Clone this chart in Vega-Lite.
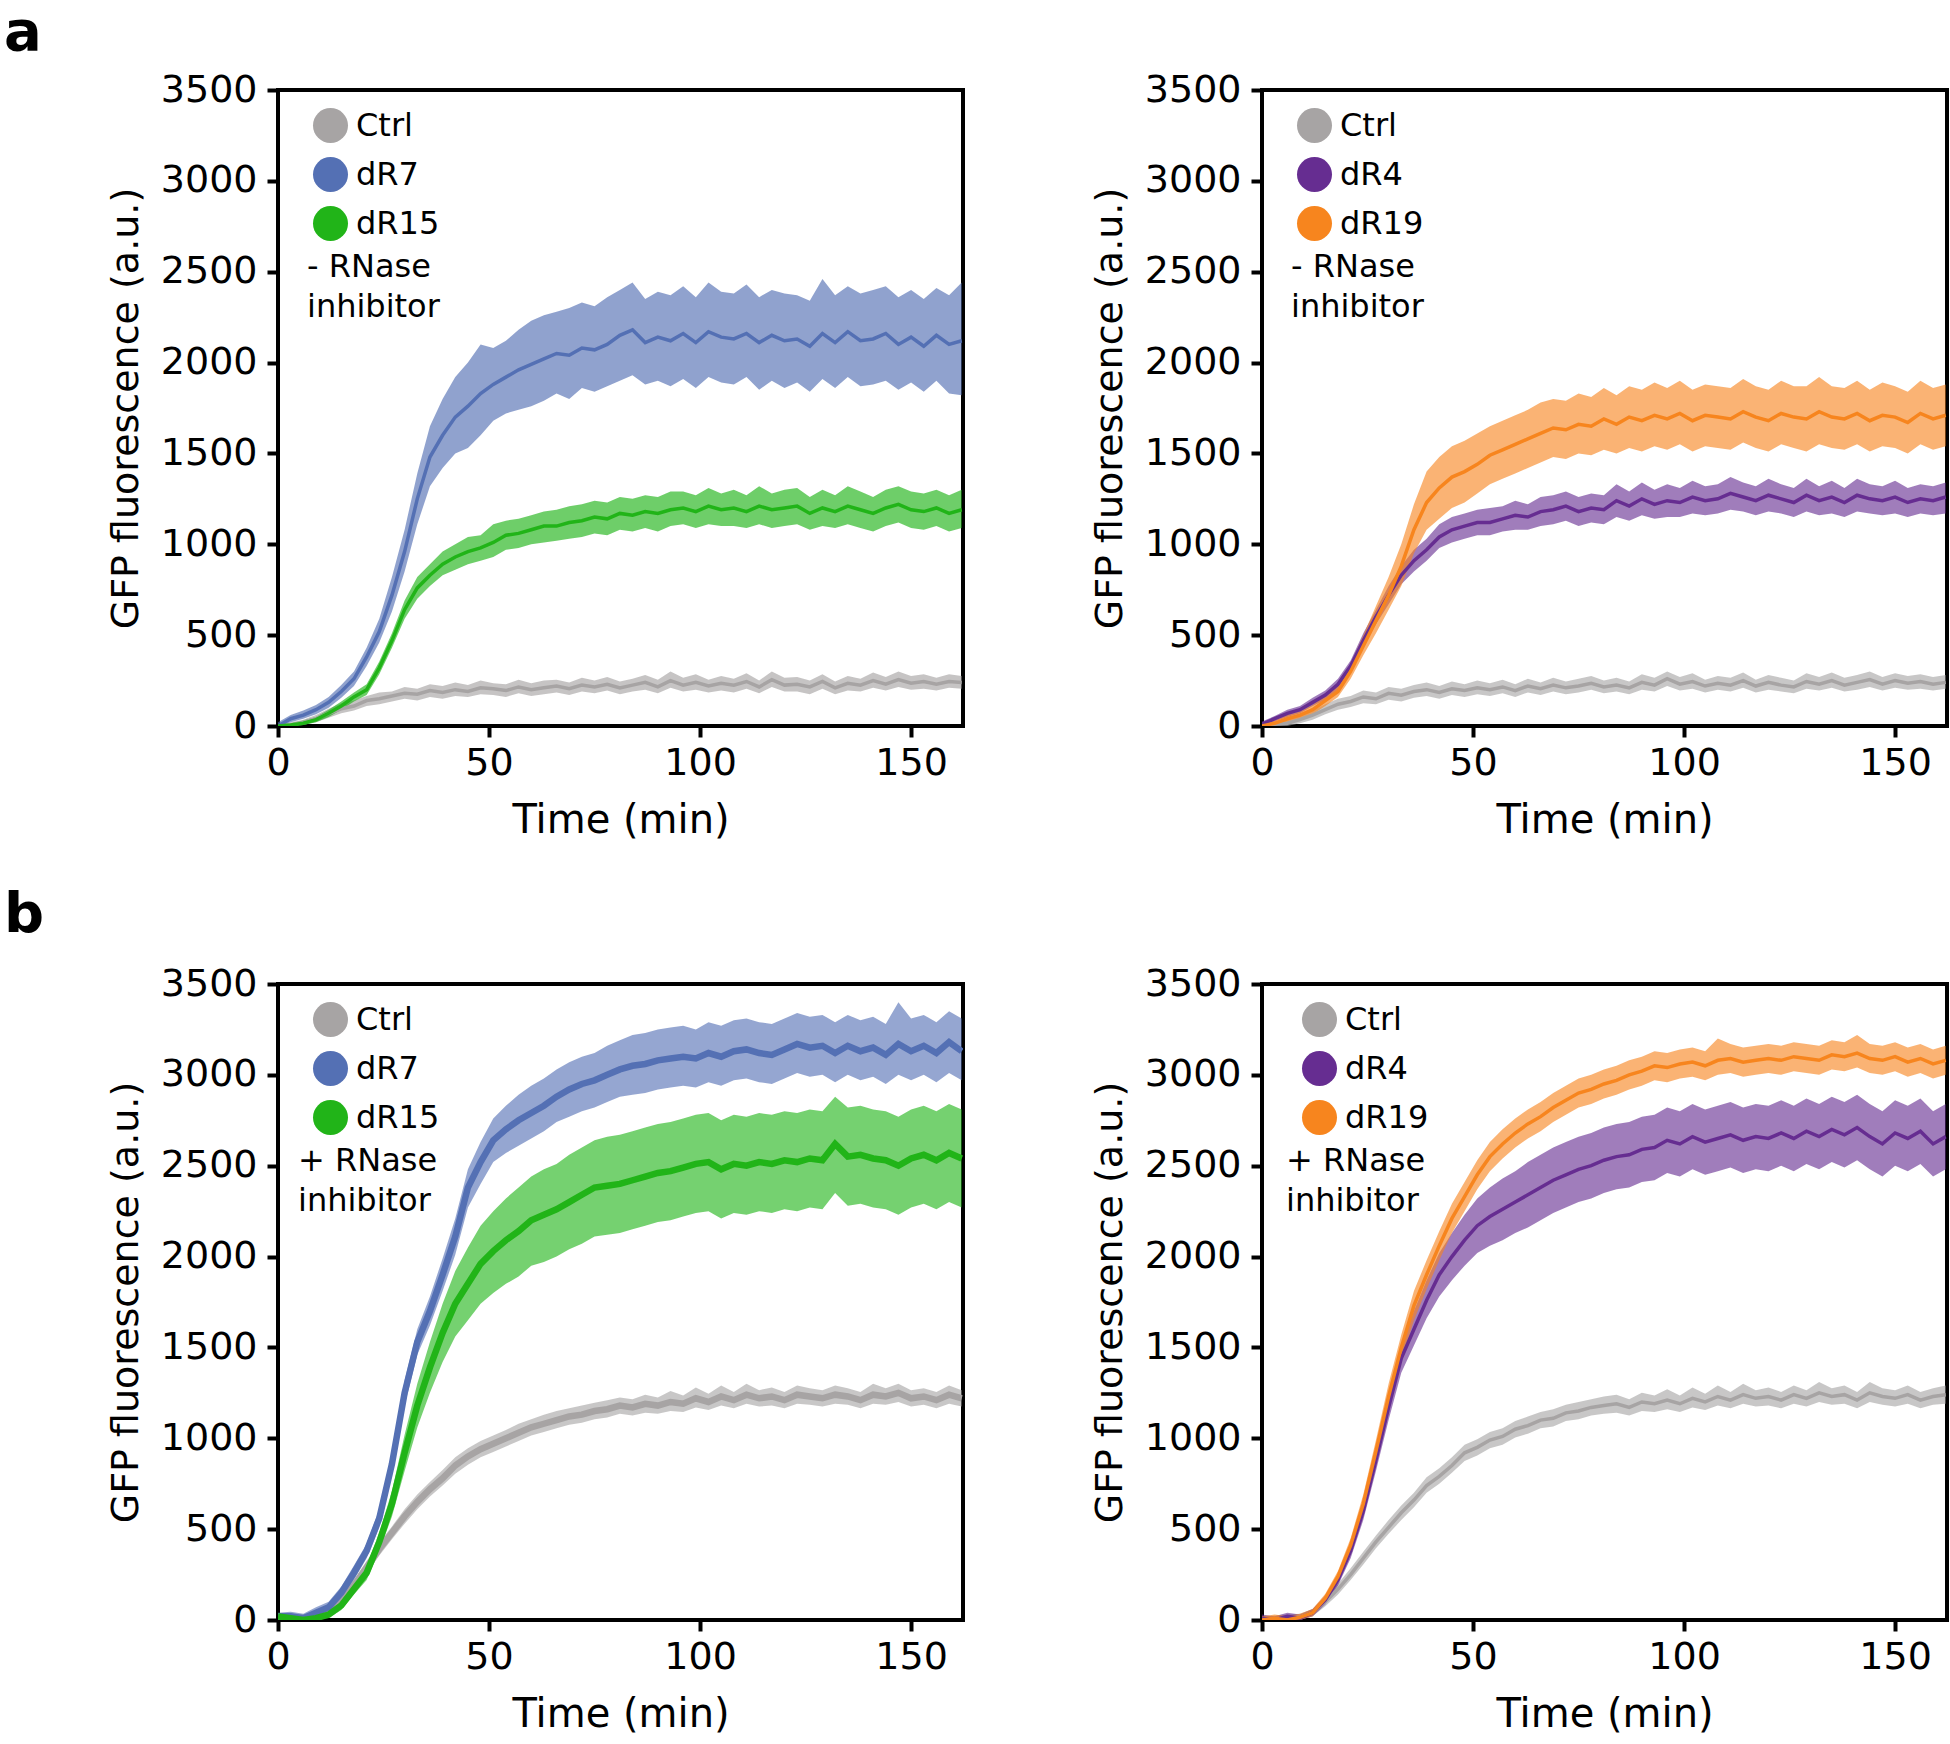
{
  "$schema": "https://vega.github.io/schema/vega-lite/v6.json",
  "description": "GFP fluorescence time courses, four panels",
  "autosize": {"type": "none"},
  "padding": {"left": 278, "top": 90, "right": 1672, "bottom": 1654},
  "background": "white",
  "datasets": {
    "gfp": [
      {"p":"a1","s":"Ctrl","t":0,"m":0,"l":0,"h":10},{"p":"a1","s":"Ctrl","t":3,"m":5,"l":0,"h":20},{"p":"a1","s":"Ctrl","t":6,"m":20,"l":5,"h":35},{"p":"a1","s":"Ctrl","t":9,"m":40,"l":20,"h":60},{"p":"a1","s":"Ctrl","t":12,"m":70,"l":45,"h":95},{"p":"a1","s":"Ctrl","t":15,"m":95,"l":70,"h":125},{"p":"a1","s":"Ctrl","t":18,"m":110,"l":85,"h":140},{"p":"a1","s":"Ctrl","t":21,"m":140,"l":110,"h":165},{"p":"a1","s":"Ctrl","t":24,"m":150,"l":120,"h":185},{"p":"a1","s":"Ctrl","t":27,"m":165,"l":135,"h":190},{"p":"a1","s":"Ctrl","t":30,"m":180,"l":150,"h":215},{"p":"a1","s":"Ctrl","t":33,"m":175,"l":140,"h":205},{"p":"a1","s":"Ctrl","t":36,"m":195,"l":160,"h":230},{"p":"a1","s":"Ctrl","t":39,"m":185,"l":150,"h":220},{"p":"a1","s":"Ctrl","t":42,"m":200,"l":165,"h":240},{"p":"a1","s":"Ctrl","t":45,"m":190,"l":160,"h":225},{"p":"a1","s":"Ctrl","t":48,"m":210,"l":175,"h":250},{"p":"a1","s":"Ctrl","t":51,"m":205,"l":170,"h":235},{"p":"a1","s":"Ctrl","t":54,"m":195,"l":160,"h":230},{"p":"a1","s":"Ctrl","t":57,"m":215,"l":180,"h":255},{"p":"a1","s":"Ctrl","t":60,"m":200,"l":165,"h":235},{"p":"a1","s":"Ctrl","t":63,"m":210,"l":175,"h":250},{"p":"a1","s":"Ctrl","t":66,"m":220,"l":185,"h":255},{"p":"a1","s":"Ctrl","t":69,"m":205,"l":170,"h":240},{"p":"a1","s":"Ctrl","t":72,"m":225,"l":190,"h":265},{"p":"a1","s":"Ctrl","t":75,"m":215,"l":180,"h":250},{"p":"a1","s":"Ctrl","t":78,"m":230,"l":195,"h":270},{"p":"a1","s":"Ctrl","t":81,"m":210,"l":175,"h":245},{"p":"a1","s":"Ctrl","t":84,"m":225,"l":190,"h":260},{"p":"a1","s":"Ctrl","t":87,"m":240,"l":200,"h":280},{"p":"a1","s":"Ctrl","t":90,"m":215,"l":180,"h":255},{"p":"a1","s":"Ctrl","t":93,"m":250,"l":210,"h":300},{"p":"a1","s":"Ctrl","t":96,"m":225,"l":190,"h":265},{"p":"a1","s":"Ctrl","t":99,"m":240,"l":200,"h":285},{"p":"a1","s":"Ctrl","t":102,"m":220,"l":185,"h":255},{"p":"a1","s":"Ctrl","t":105,"m":235,"l":195,"h":275},{"p":"a1","s":"Ctrl","t":108,"m":225,"l":185,"h":260},{"p":"a1","s":"Ctrl","t":111,"m":245,"l":205,"h":290},{"p":"a1","s":"Ctrl","t":114,"m":215,"l":180,"h":250},{"p":"a1","s":"Ctrl","t":117,"m":255,"l":215,"h":300},{"p":"a1","s":"Ctrl","t":120,"m":225,"l":190,"h":265},{"p":"a1","s":"Ctrl","t":123,"m":230,"l":190,"h":270},{"p":"a1","s":"Ctrl","t":126,"m":215,"l":175,"h":250},{"p":"a1","s":"Ctrl","t":129,"m":245,"l":205,"h":285},{"p":"a1","s":"Ctrl","t":132,"m":210,"l":175,"h":245},{"p":"a1","s":"Ctrl","t":135,"m":235,"l":195,"h":275},{"p":"a1","s":"Ctrl","t":138,"m":225,"l":190,"h":260},{"p":"a1","s":"Ctrl","t":141,"m":250,"l":210,"h":295},{"p":"a1","s":"Ctrl","t":144,"m":230,"l":195,"h":270},{"p":"a1","s":"Ctrl","t":147,"m":255,"l":215,"h":300},{"p":"a1","s":"Ctrl","t":150,"m":235,"l":200,"h":275},{"p":"a1","s":"Ctrl","t":153,"m":245,"l":205,"h":285},{"p":"a1","s":"Ctrl","t":156,"m":230,"l":195,"h":265},{"p":"a1","s":"Ctrl","t":159,"m":245,"l":210,"h":285},{"p":"a1","s":"Ctrl","t":162,"m":240,"l":205,"h":275},
      {"p":"a1","s":"dR7","t":0,"m":0,"l":0,"h":20},{"p":"a1","s":"dR7","t":3,"m":40,"l":20,"h":60},{"p":"a1","s":"dR7","t":6,"m":60,"l":40,"h":85},{"p":"a1","s":"dR7","t":9,"m":90,"l":65,"h":115},{"p":"a1","s":"dR7","t":12,"m":130,"l":100,"h":160},{"p":"a1","s":"dR7","t":15,"m":190,"l":155,"h":225},{"p":"a1","s":"dR7","t":18,"m":260,"l":220,"h":300},{"p":"a1","s":"dR7","t":21,"m":380,"l":330,"h":430},{"p":"a1","s":"dR7","t":24,"m":520,"l":460,"h":590},{"p":"a1","s":"dR7","t":27,"m":720,"l":630,"h":820},{"p":"a1","s":"dR7","t":30,"m":960,"l":850,"h":1080},{"p":"a1","s":"dR7","t":33,"m":1250,"l":1110,"h":1390},{"p":"a1","s":"dR7","t":36,"m":1480,"l":1320,"h":1650},{"p":"a1","s":"dR7","t":39,"m":1600,"l":1420,"h":1800},{"p":"a1","s":"dR7","t":42,"m":1700,"l":1500,"h":1920},{"p":"a1","s":"dR7","t":45,"m":1760,"l":1530,"h":2000},{"p":"a1","s":"dR7","t":48,"m":1830,"l":1600,"h":2100},{"p":"a1","s":"dR7","t":51,"m":1880,"l":1680,"h":2080},{"p":"a1","s":"dR7","t":54,"m":1920,"l":1720,"h":2120},{"p":"a1","s":"dR7","t":57,"m":1960,"l":1740,"h":2180},{"p":"a1","s":"dR7","t":60,"m":1990,"l":1760,"h":2230},{"p":"a1","s":"dR7","t":63,"m":2020,"l":1790,"h":2260},{"p":"a1","s":"dR7","t":66,"m":2050,"l":1830,"h":2280},{"p":"a1","s":"dR7","t":69,"m":2040,"l":1800,"h":2300},{"p":"a1","s":"dR7","t":72,"m":2080,"l":1860,"h":2330},{"p":"a1","s":"dR7","t":75,"m":2070,"l":1840,"h":2310},{"p":"a1","s":"dR7","t":78,"m":2100,"l":1870,"h":2360},{"p":"a1","s":"dR7","t":81,"m":2150,"l":1900,"h":2400},{"p":"a1","s":"dR7","t":84,"m":2180,"l":1930,"h":2440},{"p":"a1","s":"dR7","t":87,"m":2110,"l":1880,"h":2350},{"p":"a1","s":"dR7","t":90,"m":2140,"l":1900,"h":2390},{"p":"a1","s":"dR7","t":93,"m":2120,"l":1870,"h":2370},{"p":"a1","s":"dR7","t":96,"m":2160,"l":1910,"h":2420},{"p":"a1","s":"dR7","t":99,"m":2110,"l":1860,"h":2360},{"p":"a1","s":"dR7","t":102,"m":2170,"l":1920,"h":2440},{"p":"a1","s":"dR7","t":105,"m":2140,"l":1890,"h":2390},{"p":"a1","s":"dR7","t":108,"m":2130,"l":1880,"h":2380},{"p":"a1","s":"dR7","t":111,"m":2160,"l":1920,"h":2430},{"p":"a1","s":"dR7","t":114,"m":2110,"l":1850,"h":2360},{"p":"a1","s":"dR7","t":117,"m":2150,"l":1900,"h":2400},{"p":"a1","s":"dR7","t":120,"m":2120,"l":1860,"h":2380},{"p":"a1","s":"dR7","t":123,"m":2130,"l":1890,"h":2370},{"p":"a1","s":"dR7","t":126,"m":2090,"l":1840,"h":2340},{"p":"a1","s":"dR7","t":129,"m":2160,"l":1910,"h":2460},{"p":"a1","s":"dR7","t":132,"m":2110,"l":1860,"h":2370},{"p":"a1","s":"dR7","t":135,"m":2170,"l":1920,"h":2420},{"p":"a1","s":"dR7","t":138,"m":2120,"l":1870,"h":2380},{"p":"a1","s":"dR7","t":141,"m":2130,"l":1880,"h":2400},{"p":"a1","s":"dR7","t":144,"m":2160,"l":1900,"h":2420},{"p":"a1","s":"dR7","t":147,"m":2100,"l":1850,"h":2360},{"p":"a1","s":"dR7","t":150,"m":2140,"l":1890,"h":2400},{"p":"a1","s":"dR7","t":153,"m":2090,"l":1840,"h":2350},{"p":"a1","s":"dR7","t":156,"m":2150,"l":1900,"h":2410},{"p":"a1","s":"dR7","t":159,"m":2100,"l":1830,"h":2370},{"p":"a1","s":"dR7","t":162,"m":2120,"l":1820,"h":2440},
      {"p":"a1","s":"dR15","t":0,"m":0,"l":0,"h":10},{"p":"a1","s":"dR15","t":3,"m":5,"l":0,"h":15},{"p":"a1","s":"dR15","t":6,"m":15,"l":5,"h":30},{"p":"a1","s":"dR15","t":9,"m":35,"l":20,"h":50},{"p":"a1","s":"dR15","t":12,"m":70,"l":50,"h":90},{"p":"a1","s":"dR15","t":15,"m":110,"l":90,"h":135},{"p":"a1","s":"dR15","t":18,"m":160,"l":135,"h":185},{"p":"a1","s":"dR15","t":21,"m":200,"l":170,"h":230},{"p":"a1","s":"dR15","t":24,"m":320,"l":285,"h":355},{"p":"a1","s":"dR15","t":27,"m":470,"l":430,"h":510},{"p":"a1","s":"dR15","t":30,"m":640,"l":590,"h":690},{"p":"a1","s":"dR15","t":33,"m":760,"l":700,"h":820},{"p":"a1","s":"dR15","t":36,"m":830,"l":770,"h":890},{"p":"a1","s":"dR15","t":39,"m":890,"l":830,"h":960},{"p":"a1","s":"dR15","t":42,"m":930,"l":860,"h":1000},{"p":"a1","s":"dR15","t":45,"m":960,"l":890,"h":1040},{"p":"a1","s":"dR15","t":48,"m":980,"l":910,"h":1050},{"p":"a1","s":"dR15","t":51,"m":1010,"l":930,"h":1110},{"p":"a1","s":"dR15","t":54,"m":1050,"l":970,"h":1130},{"p":"a1","s":"dR15","t":57,"m":1060,"l":980,"h":1140},{"p":"a1","s":"dR15","t":60,"m":1080,"l":1000,"h":1160},{"p":"a1","s":"dR15","t":63,"m":1100,"l":1010,"h":1180},{"p":"a1","s":"dR15","t":66,"m":1100,"l":1020,"h":1190},{"p":"a1","s":"dR15","t":69,"m":1120,"l":1030,"h":1210},{"p":"a1","s":"dR15","t":72,"m":1130,"l":1040,"h":1220},{"p":"a1","s":"dR15","t":75,"m":1150,"l":1060,"h":1240},{"p":"a1","s":"dR15","t":78,"m":1140,"l":1050,"h":1230},{"p":"a1","s":"dR15","t":81,"m":1170,"l":1080,"h":1260},{"p":"a1","s":"dR15","t":84,"m":1160,"l":1070,"h":1250},{"p":"a1","s":"dR15","t":87,"m":1180,"l":1090,"h":1270},{"p":"a1","s":"dR15","t":90,"m":1170,"l":1070,"h":1260},{"p":"a1","s":"dR15","t":93,"m":1190,"l":1100,"h":1290},{"p":"a1","s":"dR15","t":96,"m":1200,"l":1110,"h":1290},{"p":"a1","s":"dR15","t":99,"m":1180,"l":1090,"h":1270},{"p":"a1","s":"dR15","t":102,"m":1210,"l":1110,"h":1310},{"p":"a1","s":"dR15","t":105,"m":1190,"l":1100,"h":1280},{"p":"a1","s":"dR15","t":108,"m":1200,"l":1100,"h":1300},{"p":"a1","s":"dR15","t":111,"m":1180,"l":1090,"h":1270},{"p":"a1","s":"dR15","t":114,"m":1210,"l":1110,"h":1320},{"p":"a1","s":"dR15","t":117,"m":1190,"l":1090,"h":1280},{"p":"a1","s":"dR15","t":120,"m":1200,"l":1100,"h":1300},{"p":"a1","s":"dR15","t":123,"m":1210,"l":1110,"h":1310},{"p":"a1","s":"dR15","t":126,"m":1170,"l":1080,"h":1260},{"p":"a1","s":"dR15","t":129,"m":1200,"l":1100,"h":1300},{"p":"a1","s":"dR15","t":132,"m":1180,"l":1090,"h":1270},{"p":"a1","s":"dR15","t":135,"m":1210,"l":1110,"h":1320},{"p":"a1","s":"dR15","t":138,"m":1190,"l":1090,"h":1290},{"p":"a1","s":"dR15","t":141,"m":1170,"l":1070,"h":1260},{"p":"a1","s":"dR15","t":144,"m":1200,"l":1100,"h":1300},{"p":"a1","s":"dR15","t":147,"m":1220,"l":1120,"h":1320},{"p":"a1","s":"dR15","t":150,"m":1190,"l":1090,"h":1290},{"p":"a1","s":"dR15","t":153,"m":1180,"l":1080,"h":1280},{"p":"a1","s":"dR15","t":156,"m":1200,"l":1100,"h":1300},{"p":"a1","s":"dR15","t":159,"m":1170,"l":1070,"h":1270},{"p":"a1","s":"dR15","t":162,"m":1190,"l":1090,"h":1300},
      {"p":"a2","s":"Ctrl","t":0,"m":0,"l":0,"h":15},{"p":"a2","s":"Ctrl","t":3,"m":10,"l":0,"h":25},{"p":"a2","s":"Ctrl","t":6,"m":15,"l":0,"h":35},{"p":"a2","s":"Ctrl","t":9,"m":35,"l":15,"h":55},{"p":"a2","s":"Ctrl","t":12,"m":60,"l":35,"h":85},{"p":"a2","s":"Ctrl","t":15,"m":90,"l":65,"h":120},{"p":"a2","s":"Ctrl","t":18,"m":120,"l":90,"h":150},{"p":"a2","s":"Ctrl","t":21,"m":135,"l":105,"h":165},{"p":"a2","s":"Ctrl","t":24,"m":160,"l":125,"h":195},{"p":"a2","s":"Ctrl","t":27,"m":150,"l":120,"h":185},{"p":"a2","s":"Ctrl","t":30,"m":180,"l":145,"h":215},{"p":"a2","s":"Ctrl","t":33,"m":170,"l":135,"h":205},{"p":"a2","s":"Ctrl","t":36,"m":190,"l":155,"h":225},{"p":"a2","s":"Ctrl","t":39,"m":200,"l":165,"h":240},{"p":"a2","s":"Ctrl","t":42,"m":185,"l":150,"h":220},{"p":"a2","s":"Ctrl","t":45,"m":205,"l":170,"h":245},{"p":"a2","s":"Ctrl","t":48,"m":195,"l":160,"h":230},{"p":"a2","s":"Ctrl","t":51,"m":210,"l":175,"h":250},{"p":"a2","s":"Ctrl","t":54,"m":200,"l":165,"h":235},{"p":"a2","s":"Ctrl","t":57,"m":215,"l":180,"h":255},{"p":"a2","s":"Ctrl","t":60,"m":195,"l":160,"h":230},{"p":"a2","s":"Ctrl","t":63,"m":220,"l":185,"h":260},{"p":"a2","s":"Ctrl","t":66,"m":205,"l":170,"h":240},{"p":"a2","s":"Ctrl","t":69,"m":225,"l":190,"h":265},{"p":"a2","s":"Ctrl","t":72,"m":210,"l":175,"h":245},{"p":"a2","s":"Ctrl","t":75,"m":220,"l":185,"h":260},{"p":"a2","s":"Ctrl","t":78,"m":235,"l":200,"h":275},{"p":"a2","s":"Ctrl","t":81,"m":215,"l":180,"h":250},{"p":"a2","s":"Ctrl","t":84,"m":225,"l":190,"h":265},{"p":"a2","s":"Ctrl","t":87,"m":210,"l":175,"h":245},{"p":"a2","s":"Ctrl","t":90,"m":240,"l":200,"h":285},{"p":"a2","s":"Ctrl","t":93,"m":225,"l":190,"h":265},{"p":"a2","s":"Ctrl","t":96,"m":260,"l":220,"h":300},{"p":"a2","s":"Ctrl","t":99,"m":230,"l":195,"h":270},{"p":"a2","s":"Ctrl","t":102,"m":245,"l":205,"h":290},{"p":"a2","s":"Ctrl","t":105,"m":220,"l":185,"h":255},{"p":"a2","s":"Ctrl","t":108,"m":235,"l":200,"h":275},{"p":"a2","s":"Ctrl","t":111,"m":225,"l":190,"h":265},{"p":"a2","s":"Ctrl","t":114,"m":250,"l":210,"h":295},{"p":"a2","s":"Ctrl","t":117,"m":220,"l":185,"h":255},{"p":"a2","s":"Ctrl","t":120,"m":240,"l":200,"h":280},{"p":"a2","s":"Ctrl","t":123,"m":225,"l":190,"h":265},{"p":"a2","s":"Ctrl","t":126,"m":215,"l":180,"h":250},{"p":"a2","s":"Ctrl","t":129,"m":245,"l":205,"h":290},{"p":"a2","s":"Ctrl","t":132,"m":230,"l":195,"h":270},{"p":"a2","s":"Ctrl","t":135,"m":250,"l":210,"h":295},{"p":"a2","s":"Ctrl","t":138,"m":225,"l":190,"h":265},{"p":"a2","s":"Ctrl","t":141,"m":240,"l":200,"h":280},{"p":"a2","s":"Ctrl","t":144,"m":255,"l":215,"h":300},{"p":"a2","s":"Ctrl","t":147,"m":230,"l":195,"h":270},{"p":"a2","s":"Ctrl","t":150,"m":250,"l":210,"h":290},{"p":"a2","s":"Ctrl","t":153,"m":235,"l":200,"h":275},{"p":"a2","s":"Ctrl","t":156,"m":245,"l":205,"h":285},{"p":"a2","s":"Ctrl","t":159,"m":230,"l":195,"h":270},{"p":"a2","s":"Ctrl","t":162,"m":240,"l":205,"h":280},
      {"p":"a2","s":"dR4","t":0,"m":10,"l":0,"h":25},{"p":"a2","s":"dR4","t":3,"m":40,"l":25,"h":55},{"p":"a2","s":"dR4","t":6,"m":70,"l":50,"h":90},{"p":"a2","s":"dR4","t":9,"m":90,"l":70,"h":110},{"p":"a2","s":"dR4","t":12,"m":130,"l":110,"h":155},{"p":"a2","s":"dR4","t":15,"m":170,"l":145,"h":195},{"p":"a2","s":"dR4","t":18,"m":230,"l":200,"h":260},{"p":"a2","s":"dR4","t":21,"m":330,"l":300,"h":360},{"p":"a2","s":"dR4","t":24,"m":470,"l":430,"h":510},{"p":"a2","s":"dR4","t":27,"m":600,"l":560,"h":640},{"p":"a2","s":"dR4","t":30,"m":720,"l":670,"h":770},{"p":"a2","s":"dR4","t":33,"m":830,"l":780,"h":880},{"p":"a2","s":"dR4","t":36,"m":910,"l":850,"h":970},{"p":"a2","s":"dR4","t":39,"m":970,"l":910,"h":1030},{"p":"a2","s":"dR4","t":42,"m":1040,"l":980,"h":1110},{"p":"a2","s":"dR4","t":45,"m":1080,"l":1010,"h":1150},{"p":"a2","s":"dR4","t":48,"m":1100,"l":1030,"h":1170},{"p":"a2","s":"dR4","t":51,"m":1120,"l":1050,"h":1190},{"p":"a2","s":"dR4","t":54,"m":1120,"l":1050,"h":1200},{"p":"a2","s":"dR4","t":57,"m":1140,"l":1070,"h":1210},{"p":"a2","s":"dR4","t":60,"m":1160,"l":1080,"h":1240},{"p":"a2","s":"dR4","t":63,"m":1150,"l":1080,"h":1220},{"p":"a2","s":"dR4","t":66,"m":1180,"l":1100,"h":1260},{"p":"a2","s":"dR4","t":69,"m":1190,"l":1110,"h":1270},{"p":"a2","s":"dR4","t":72,"m":1210,"l":1130,"h":1290},{"p":"a2","s":"dR4","t":75,"m":1180,"l":1100,"h":1260},{"p":"a2","s":"dR4","t":78,"m":1200,"l":1120,"h":1280},{"p":"a2","s":"dR4","t":81,"m":1190,"l":1110,"h":1270},{"p":"a2","s":"dR4","t":84,"m":1240,"l":1150,"h":1330},{"p":"a2","s":"dR4","t":87,"m":1210,"l":1130,"h":1290},{"p":"a2","s":"dR4","t":90,"m":1250,"l":1160,"h":1340},{"p":"a2","s":"dR4","t":93,"m":1220,"l":1140,"h":1300},{"p":"a2","s":"dR4","t":96,"m":1240,"l":1150,"h":1330},{"p":"a2","s":"dR4","t":99,"m":1230,"l":1150,"h":1310},{"p":"a2","s":"dR4","t":102,"m":1260,"l":1170,"h":1350},{"p":"a2","s":"dR4","t":105,"m":1240,"l":1160,"h":1320},{"p":"a2","s":"dR4","t":108,"m":1250,"l":1170,"h":1330},{"p":"a2","s":"dR4","t":111,"m":1280,"l":1190,"h":1370},{"p":"a2","s":"dR4","t":114,"m":1260,"l":1180,"h":1340},{"p":"a2","s":"dR4","t":117,"m":1240,"l":1160,"h":1320},{"p":"a2","s":"dR4","t":120,"m":1270,"l":1180,"h":1360},{"p":"a2","s":"dR4","t":123,"m":1250,"l":1170,"h":1330},{"p":"a2","s":"dR4","t":126,"m":1230,"l":1150,"h":1310},{"p":"a2","s":"dR4","t":129,"m":1270,"l":1180,"h":1360},{"p":"a2","s":"dR4","t":132,"m":1240,"l":1160,"h":1320},{"p":"a2","s":"dR4","t":135,"m":1260,"l":1170,"h":1350},{"p":"a2","s":"dR4","t":138,"m":1230,"l":1150,"h":1310},{"p":"a2","s":"dR4","t":141,"m":1270,"l":1180,"h":1360},{"p":"a2","s":"dR4","t":144,"m":1250,"l":1170,"h":1330},{"p":"a2","s":"dR4","t":147,"m":1240,"l":1160,"h":1320},{"p":"a2","s":"dR4","t":150,"m":1260,"l":1170,"h":1350},{"p":"a2","s":"dR4","t":153,"m":1230,"l":1150,"h":1310},{"p":"a2","s":"dR4","t":156,"m":1250,"l":1170,"h":1330},{"p":"a2","s":"dR4","t":159,"m":1240,"l":1160,"h":1320},{"p":"a2","s":"dR4","t":162,"m":1260,"l":1170,"h":1340},
      {"p":"a2","s":"dR19","t":0,"m":0,"l":0,"h":15},{"p":"a2","s":"dR19","t":3,"m":15,"l":0,"h":30},{"p":"a2","s":"dR19","t":6,"m":40,"l":20,"h":60},{"p":"a2","s":"dR19","t":9,"m":60,"l":40,"h":80},{"p":"a2","s":"dR19","t":12,"m":90,"l":65,"h":115},{"p":"a2","s":"dR19","t":15,"m":140,"l":110,"h":170},{"p":"a2","s":"dR19","t":18,"m":190,"l":160,"h":220},{"p":"a2","s":"dR19","t":21,"m":300,"l":260,"h":340},{"p":"a2","s":"dR19","t":24,"m":440,"l":390,"h":500},{"p":"a2","s":"dR19","t":27,"m":580,"l":510,"h":660},{"p":"a2","s":"dR19","t":30,"m":720,"l":640,"h":820},{"p":"a2","s":"dR19","t":33,"m":880,"l":770,"h":1000},{"p":"a2","s":"dR19","t":36,"m":1080,"l":950,"h":1220},{"p":"a2","s":"dR19","t":39,"m":1230,"l":1080,"h":1400},{"p":"a2","s":"dR19","t":42,"m":1310,"l":1140,"h":1480},{"p":"a2","s":"dR19","t":45,"m":1370,"l":1200,"h":1540},{"p":"a2","s":"dR19","t":48,"m":1400,"l":1230,"h":1570},{"p":"a2","s":"dR19","t":51,"m":1440,"l":1280,"h":1610},{"p":"a2","s":"dR19","t":54,"m":1490,"l":1330,"h":1650},{"p":"a2","s":"dR19","t":57,"m":1520,"l":1360,"h":1680},{"p":"a2","s":"dR19","t":60,"m":1550,"l":1390,"h":1710},{"p":"a2","s":"dR19","t":63,"m":1580,"l":1420,"h":1740},{"p":"a2","s":"dR19","t":66,"m":1610,"l":1450,"h":1780},{"p":"a2","s":"dR19","t":69,"m":1640,"l":1480,"h":1800},{"p":"a2","s":"dR19","t":72,"m":1630,"l":1470,"h":1790},{"p":"a2","s":"dR19","t":75,"m":1660,"l":1500,"h":1830},{"p":"a2","s":"dR19","t":78,"m":1650,"l":1490,"h":1810},{"p":"a2","s":"dR19","t":81,"m":1690,"l":1520,"h":1860},{"p":"a2","s":"dR19","t":84,"m":1660,"l":1500,"h":1820},{"p":"a2","s":"dR19","t":87,"m":1700,"l":1530,"h":1870},{"p":"a2","s":"dR19","t":90,"m":1680,"l":1510,"h":1850},{"p":"a2","s":"dR19","t":93,"m":1710,"l":1540,"h":1890},{"p":"a2","s":"dR19","t":96,"m":1690,"l":1520,"h":1860},{"p":"a2","s":"dR19","t":99,"m":1720,"l":1550,"h":1900},{"p":"a2","s":"dR19","t":102,"m":1680,"l":1510,"h":1850},{"p":"a2","s":"dR19","t":105,"m":1710,"l":1540,"h":1880},{"p":"a2","s":"dR19","t":108,"m":1700,"l":1530,"h":1870},{"p":"a2","s":"dR19","t":111,"m":1690,"l":1520,"h":1860},{"p":"a2","s":"dR19","t":114,"m":1730,"l":1560,"h":1910},{"p":"a2","s":"dR19","t":117,"m":1700,"l":1530,"h":1870},{"p":"a2","s":"dR19","t":120,"m":1680,"l":1510,"h":1850},{"p":"a2","s":"dR19","t":123,"m":1720,"l":1550,"h":1900},{"p":"a2","s":"dR19","t":126,"m":1700,"l":1530,"h":1870},{"p":"a2","s":"dR19","t":129,"m":1690,"l":1510,"h":1870},{"p":"a2","s":"dR19","t":132,"m":1730,"l":1550,"h":1920},{"p":"a2","s":"dR19","t":135,"m":1700,"l":1530,"h":1870},{"p":"a2","s":"dR19","t":138,"m":1690,"l":1520,"h":1860},{"p":"a2","s":"dR19","t":141,"m":1720,"l":1550,"h":1900},{"p":"a2","s":"dR19","t":144,"m":1680,"l":1510,"h":1850},{"p":"a2","s":"dR19","t":147,"m":1710,"l":1540,"h":1890},{"p":"a2","s":"dR19","t":150,"m":1700,"l":1530,"h":1870},{"p":"a2","s":"dR19","t":153,"m":1670,"l":1500,"h":1840},{"p":"a2","s":"dR19","t":156,"m":1720,"l":1550,"h":1900},{"p":"a2","s":"dR19","t":159,"m":1690,"l":1520,"h":1860},{"p":"a2","s":"dR19","t":162,"m":1710,"l":1540,"h":1880},
      {"p":"b1","s":"Ctrl","t":0,"m":10,"l":0,"h":30},{"p":"b1","s":"Ctrl","t":3,"m":15,"l":0,"h":35},{"p":"b1","s":"Ctrl","t":6,"m":10,"l":0,"h":30},{"p":"b1","s":"Ctrl","t":9,"m":20,"l":0,"h":45},{"p":"b1","s":"Ctrl","t":12,"m":50,"l":25,"h":75},{"p":"b1","s":"Ctrl","t":15,"m":110,"l":80,"h":140},{"p":"b1","s":"Ctrl","t":18,"m":190,"l":160,"h":220},{"p":"b1","s":"Ctrl","t":21,"m":290,"l":255,"h":325},{"p":"b1","s":"Ctrl","t":24,"m":390,"l":355,"h":425},{"p":"b1","s":"Ctrl","t":27,"m":480,"l":445,"h":515},{"p":"b1","s":"Ctrl","t":30,"m":570,"l":530,"h":610},{"p":"b1","s":"Ctrl","t":33,"m":650,"l":610,"h":690},{"p":"b1","s":"Ctrl","t":36,"m":720,"l":680,"h":760},{"p":"b1","s":"Ctrl","t":39,"m":780,"l":740,"h":825},{"p":"b1","s":"Ctrl","t":42,"m":850,"l":805,"h":895},{"p":"b1","s":"Ctrl","t":45,"m":900,"l":855,"h":945},{"p":"b1","s":"Ctrl","t":48,"m":940,"l":895,"h":985},{"p":"b1","s":"Ctrl","t":51,"m":970,"l":925,"h":1015},{"p":"b1","s":"Ctrl","t":54,"m":1000,"l":955,"h":1045},{"p":"b1","s":"Ctrl","t":57,"m":1030,"l":985,"h":1080},{"p":"b1","s":"Ctrl","t":60,"m":1060,"l":1015,"h":1105},{"p":"b1","s":"Ctrl","t":63,"m":1080,"l":1035,"h":1130},{"p":"b1","s":"Ctrl","t":66,"m":1100,"l":1055,"h":1150},{"p":"b1","s":"Ctrl","t":69,"m":1120,"l":1075,"h":1165},{"p":"b1","s":"Ctrl","t":72,"m":1130,"l":1085,"h":1180},{"p":"b1","s":"Ctrl","t":75,"m":1150,"l":1105,"h":1195},{"p":"b1","s":"Ctrl","t":78,"m":1160,"l":1115,"h":1210},{"p":"b1","s":"Ctrl","t":81,"m":1180,"l":1135,"h":1225},{"p":"b1","s":"Ctrl","t":84,"m":1170,"l":1125,"h":1215},{"p":"b1","s":"Ctrl","t":87,"m":1190,"l":1140,"h":1240},{"p":"b1","s":"Ctrl","t":90,"m":1180,"l":1135,"h":1225},{"p":"b1","s":"Ctrl","t":93,"m":1200,"l":1150,"h":1260},{"p":"b1","s":"Ctrl","t":96,"m":1190,"l":1145,"h":1235},{"p":"b1","s":"Ctrl","t":99,"m":1220,"l":1170,"h":1280},{"p":"b1","s":"Ctrl","t":102,"m":1200,"l":1155,"h":1245},{"p":"b1","s":"Ctrl","t":105,"m":1230,"l":1180,"h":1290},{"p":"b1","s":"Ctrl","t":108,"m":1210,"l":1165,"h":1255},{"p":"b1","s":"Ctrl","t":111,"m":1240,"l":1190,"h":1300},{"p":"b1","s":"Ctrl","t":114,"m":1220,"l":1175,"h":1265},{"p":"b1","s":"Ctrl","t":117,"m":1230,"l":1180,"h":1280},{"p":"b1","s":"Ctrl","t":120,"m":1210,"l":1165,"h":1255},{"p":"b1","s":"Ctrl","t":123,"m":1240,"l":1190,"h":1290},{"p":"b1","s":"Ctrl","t":126,"m":1230,"l":1185,"h":1275},{"p":"b1","s":"Ctrl","t":129,"m":1220,"l":1175,"h":1265},{"p":"b1","s":"Ctrl","t":132,"m":1240,"l":1190,"h":1290},{"p":"b1","s":"Ctrl","t":135,"m":1230,"l":1185,"h":1275},{"p":"b1","s":"Ctrl","t":138,"m":1210,"l":1165,"h":1255},{"p":"b1","s":"Ctrl","t":141,"m":1240,"l":1190,"h":1300},{"p":"b1","s":"Ctrl","t":144,"m":1230,"l":1185,"h":1275},{"p":"b1","s":"Ctrl","t":147,"m":1250,"l":1200,"h":1300},{"p":"b1","s":"Ctrl","t":150,"m":1220,"l":1175,"h":1265},{"p":"b1","s":"Ctrl","t":153,"m":1230,"l":1185,"h":1275},{"p":"b1","s":"Ctrl","t":156,"m":1210,"l":1165,"h":1255},{"p":"b1","s":"Ctrl","t":159,"m":1240,"l":1190,"h":1290},{"p":"b1","s":"Ctrl","t":162,"m":1220,"l":1175,"h":1265},
      {"p":"b1","s":"dR7","t":0,"m":20,"l":0,"h":40},{"p":"b1","s":"dR7","t":3,"m":20,"l":0,"h":45},{"p":"b1","s":"dR7","t":6,"m":10,"l":0,"h":35},{"p":"b1","s":"dR7","t":9,"m":40,"l":15,"h":70},{"p":"b1","s":"dR7","t":12,"m":70,"l":40,"h":100},{"p":"b1","s":"dR7","t":15,"m":150,"l":115,"h":185},{"p":"b1","s":"dR7","t":18,"m":260,"l":220,"h":300},{"p":"b1","s":"dR7","t":21,"m":380,"l":340,"h":420},{"p":"b1","s":"dR7","t":24,"m":560,"l":510,"h":610},{"p":"b1","s":"dR7","t":27,"m":860,"l":800,"h":920},{"p":"b1","s":"dR7","t":30,"m":1250,"l":1180,"h":1320},{"p":"b1","s":"dR7","t":33,"m":1530,"l":1460,"h":1600},{"p":"b1","s":"dR7","t":36,"m":1700,"l":1620,"h":1780},{"p":"b1","s":"dR7","t":39,"m":1900,"l":1810,"h":1990},{"p":"b1","s":"dR7","t":42,"m":2110,"l":2010,"h":2210},{"p":"b1","s":"dR7","t":45,"m":2380,"l":2270,"h":2480},{"p":"b1","s":"dR7","t":48,"m":2520,"l":2400,"h":2630},{"p":"b1","s":"dR7","t":51,"m":2640,"l":2520,"h":2760},{"p":"b1","s":"dR7","t":54,"m":2700,"l":2570,"h":2830},{"p":"b1","s":"dR7","t":57,"m":2750,"l":2610,"h":2890},{"p":"b1","s":"dR7","t":60,"m":2790,"l":2650,"h":2940},{"p":"b1","s":"dR7","t":63,"m":2830,"l":2690,"h":2980},{"p":"b1","s":"dR7","t":66,"m":2880,"l":2740,"h":3030},{"p":"b1","s":"dR7","t":69,"m":2920,"l":2770,"h":3070},{"p":"b1","s":"dR7","t":72,"m":2950,"l":2800,"h":3100},{"p":"b1","s":"dR7","t":75,"m":2970,"l":2820,"h":3120},{"p":"b1","s":"dR7","t":78,"m":3000,"l":2850,"h":3160},{"p":"b1","s":"dR7","t":81,"m":3030,"l":2880,"h":3190},{"p":"b1","s":"dR7","t":84,"m":3050,"l":2890,"h":3220},{"p":"b1","s":"dR7","t":87,"m":3060,"l":2900,"h":3230},{"p":"b1","s":"dR7","t":90,"m":3080,"l":2920,"h":3250},{"p":"b1","s":"dR7","t":93,"m":3090,"l":2930,"h":3260},{"p":"b1","s":"dR7","t":96,"m":3100,"l":2940,"h":3270},{"p":"b1","s":"dR7","t":99,"m":3090,"l":2930,"h":3250},{"p":"b1","s":"dR7","t":102,"m":3120,"l":2960,"h":3290},{"p":"b1","s":"dR7","t":105,"m":3100,"l":2940,"h":3270},{"p":"b1","s":"dR7","t":108,"m":3130,"l":2970,"h":3300},{"p":"b1","s":"dR7","t":111,"m":3140,"l":2980,"h":3310},{"p":"b1","s":"dR7","t":114,"m":3120,"l":2960,"h":3290},{"p":"b1","s":"dR7","t":117,"m":3110,"l":2950,"h":3280},{"p":"b1","s":"dR7","t":120,"m":3140,"l":2980,"h":3310},{"p":"b1","s":"dR7","t":123,"m":3170,"l":3010,"h":3340},{"p":"b1","s":"dR7","t":126,"m":3150,"l":2990,"h":3320},{"p":"b1","s":"dR7","t":129,"m":3160,"l":3000,"h":3330},{"p":"b1","s":"dR7","t":132,"m":3120,"l":2960,"h":3290},{"p":"b1","s":"dR7","t":135,"m":3160,"l":3000,"h":3330},{"p":"b1","s":"dR7","t":138,"m":3130,"l":2970,"h":3300},{"p":"b1","s":"dR7","t":141,"m":3150,"l":2990,"h":3320},{"p":"b1","s":"dR7","t":144,"m":3110,"l":2950,"h":3280},{"p":"b1","s":"dR7","t":147,"m":3170,"l":3000,"h":3400},{"p":"b1","s":"dR7","t":150,"m":3130,"l":2970,"h":3310},{"p":"b1","s":"dR7","t":153,"m":3160,"l":3000,"h":3330},{"p":"b1","s":"dR7","t":156,"m":3120,"l":2960,"h":3290},{"p":"b1","s":"dR7","t":159,"m":3180,"l":3010,"h":3350},{"p":"b1","s":"dR7","t":162,"m":3130,"l":2970,"h":3310},
      {"p":"b1","s":"dR15","t":0,"m":20,"l":0,"h":40},{"p":"b1","s":"dR15","t":3,"m":10,"l":0,"h":30},{"p":"b1","s":"dR15","t":6,"m":0,"l":0,"h":20},{"p":"b1","s":"dR15","t":9,"m":10,"l":0,"h":30},{"p":"b1","s":"dR15","t":12,"m":30,"l":10,"h":55},{"p":"b1","s":"dR15","t":15,"m":80,"l":55,"h":105},{"p":"b1","s":"dR15","t":18,"m":170,"l":140,"h":200},{"p":"b1","s":"dR15","t":21,"m":260,"l":220,"h":300},{"p":"b1","s":"dR15","t":24,"m":430,"l":380,"h":480},{"p":"b1","s":"dR15","t":27,"m":640,"l":570,"h":710},{"p":"b1","s":"dR15","t":30,"m":920,"l":820,"h":1020},{"p":"b1","s":"dR15","t":33,"m":1180,"l":1060,"h":1300},{"p":"b1","s":"dR15","t":36,"m":1390,"l":1250,"h":1530},{"p":"b1","s":"dR15","t":39,"m":1580,"l":1420,"h":1740},{"p":"b1","s":"dR15","t":42,"m":1740,"l":1560,"h":1920},{"p":"b1","s":"dR15","t":45,"m":1850,"l":1650,"h":2050},{"p":"b1","s":"dR15","t":48,"m":1960,"l":1740,"h":2170},{"p":"b1","s":"dR15","t":51,"m":2030,"l":1800,"h":2250},{"p":"b1","s":"dR15","t":54,"m":2090,"l":1850,"h":2320},{"p":"b1","s":"dR15","t":57,"m":2140,"l":1890,"h":2380},{"p":"b1","s":"dR15","t":60,"m":2200,"l":1950,"h":2440},{"p":"b1","s":"dR15","t":63,"m":2230,"l":1970,"h":2480},{"p":"b1","s":"dR15","t":66,"m":2260,"l":2000,"h":2510},{"p":"b1","s":"dR15","t":69,"m":2300,"l":2040,"h":2560},{"p":"b1","s":"dR15","t":72,"m":2340,"l":2070,"h":2600},{"p":"b1","s":"dR15","t":75,"m":2380,"l":2110,"h":2640},{"p":"b1","s":"dR15","t":78,"m":2390,"l":2120,"h":2660},{"p":"b1","s":"dR15","t":81,"m":2400,"l":2130,"h":2670},{"p":"b1","s":"dR15","t":84,"m":2420,"l":2150,"h":2690},{"p":"b1","s":"dR15","t":87,"m":2440,"l":2170,"h":2710},{"p":"b1","s":"dR15","t":90,"m":2460,"l":2190,"h":2730},{"p":"b1","s":"dR15","t":93,"m":2470,"l":2200,"h":2740},{"p":"b1","s":"dR15","t":96,"m":2490,"l":2220,"h":2760},{"p":"b1","s":"dR15","t":99,"m":2510,"l":2240,"h":2780},{"p":"b1","s":"dR15","t":102,"m":2520,"l":2250,"h":2790},{"p":"b1","s":"dR15","t":105,"m":2480,"l":2210,"h":2750},{"p":"b1","s":"dR15","t":108,"m":2510,"l":2240,"h":2780},{"p":"b1","s":"dR15","t":111,"m":2500,"l":2230,"h":2770},{"p":"b1","s":"dR15","t":114,"m":2520,"l":2250,"h":2790},{"p":"b1","s":"dR15","t":117,"m":2510,"l":2240,"h":2780},{"p":"b1","s":"dR15","t":120,"m":2530,"l":2260,"h":2800},{"p":"b1","s":"dR15","t":123,"m":2520,"l":2250,"h":2790},{"p":"b1","s":"dR15","t":126,"m":2540,"l":2270,"h":2810},{"p":"b1","s":"dR15","t":129,"m":2530,"l":2260,"h":2800},{"p":"b1","s":"dR15","t":132,"m":2620,"l":2350,"h":2880},{"p":"b1","s":"dR15","t":135,"m":2550,"l":2280,"h":2820},{"p":"b1","s":"dR15","t":138,"m":2560,"l":2290,"h":2830},{"p":"b1","s":"dR15","t":141,"m":2540,"l":2270,"h":2810},{"p":"b1","s":"dR15","t":144,"m":2530,"l":2260,"h":2800},{"p":"b1","s":"dR15","t":147,"m":2500,"l":2230,"h":2770},{"p":"b1","s":"dR15","t":150,"m":2540,"l":2270,"h":2810},{"p":"b1","s":"dR15","t":153,"m":2560,"l":2290,"h":2830},{"p":"b1","s":"dR15","t":156,"m":2530,"l":2260,"h":2800},{"p":"b1","s":"dR15","t":159,"m":2570,"l":2300,"h":2840},{"p":"b1","s":"dR15","t":162,"m":2540,"l":2270,"h":2810},
      {"p":"b2","s":"Ctrl","t":0,"m":0,"l":0,"h":20},{"p":"b2","s":"Ctrl","t":3,"m":5,"l":0,"h":25},{"p":"b2","s":"Ctrl","t":6,"m":10,"l":0,"h":30},{"p":"b2","s":"Ctrl","t":9,"m":15,"l":0,"h":35},{"p":"b2","s":"Ctrl","t":12,"m":40,"l":20,"h":60},{"p":"b2","s":"Ctrl","t":15,"m":100,"l":75,"h":125},{"p":"b2","s":"Ctrl","t":18,"m":170,"l":140,"h":200},{"p":"b2","s":"Ctrl","t":21,"m":250,"l":220,"h":285},{"p":"b2","s":"Ctrl","t":24,"m":340,"l":305,"h":375},{"p":"b2","s":"Ctrl","t":27,"m":430,"l":395,"h":465},{"p":"b2","s":"Ctrl","t":30,"m":510,"l":475,"h":550},{"p":"b2","s":"Ctrl","t":33,"m":590,"l":550,"h":630},{"p":"b2","s":"Ctrl","t":36,"m":660,"l":620,"h":700},{"p":"b2","s":"Ctrl","t":39,"m":740,"l":700,"h":785},{"p":"b2","s":"Ctrl","t":42,"m":790,"l":750,"h":835},{"p":"b2","s":"Ctrl","t":45,"m":850,"l":810,"h":895},{"p":"b2","s":"Ctrl","t":48,"m":920,"l":875,"h":965},{"p":"b2","s":"Ctrl","t":51,"m":950,"l":905,"h":995},{"p":"b2","s":"Ctrl","t":54,"m":990,"l":945,"h":1035},{"p":"b2","s":"Ctrl","t":57,"m":1010,"l":965,"h":1055},{"p":"b2","s":"Ctrl","t":60,"m":1050,"l":1005,"h":1095},{"p":"b2","s":"Ctrl","t":63,"m":1070,"l":1025,"h":1120},{"p":"b2","s":"Ctrl","t":66,"m":1100,"l":1055,"h":1145},{"p":"b2","s":"Ctrl","t":69,"m":1110,"l":1065,"h":1160},{"p":"b2","s":"Ctrl","t":72,"m":1140,"l":1095,"h":1185},{"p":"b2","s":"Ctrl","t":75,"m":1150,"l":1105,"h":1200},{"p":"b2","s":"Ctrl","t":78,"m":1170,"l":1125,"h":1215},{"p":"b2","s":"Ctrl","t":81,"m":1180,"l":1135,"h":1230},{"p":"b2","s":"Ctrl","t":84,"m":1190,"l":1140,"h":1240},{"p":"b2","s":"Ctrl","t":87,"m":1170,"l":1125,"h":1215},{"p":"b2","s":"Ctrl","t":90,"m":1200,"l":1150,"h":1250},{"p":"b2","s":"Ctrl","t":93,"m":1190,"l":1145,"h":1235},{"p":"b2","s":"Ctrl","t":96,"m":1210,"l":1160,"h":1270},{"p":"b2","s":"Ctrl","t":99,"m":1190,"l":1145,"h":1235},{"p":"b2","s":"Ctrl","t":102,"m":1220,"l":1170,"h":1280},{"p":"b2","s":"Ctrl","t":105,"m":1200,"l":1155,"h":1245},{"p":"b2","s":"Ctrl","t":108,"m":1230,"l":1180,"h":1290},{"p":"b2","s":"Ctrl","t":111,"m":1210,"l":1165,"h":1255},{"p":"b2","s":"Ctrl","t":114,"m":1240,"l":1190,"h":1300},{"p":"b2","s":"Ctrl","t":117,"m":1220,"l":1175,"h":1265},{"p":"b2","s":"Ctrl","t":120,"m":1230,"l":1180,"h":1280},{"p":"b2","s":"Ctrl","t":123,"m":1210,"l":1165,"h":1255},{"p":"b2","s":"Ctrl","t":126,"m":1240,"l":1190,"h":1290},{"p":"b2","s":"Ctrl","t":129,"m":1220,"l":1175,"h":1265},{"p":"b2","s":"Ctrl","t":132,"m":1250,"l":1200,"h":1310},{"p":"b2","s":"Ctrl","t":135,"m":1230,"l":1185,"h":1275},{"p":"b2","s":"Ctrl","t":138,"m":1240,"l":1190,"h":1290},{"p":"b2","s":"Ctrl","t":141,"m":1210,"l":1165,"h":1255},{"p":"b2","s":"Ctrl","t":144,"m":1250,"l":1200,"h":1310},{"p":"b2","s":"Ctrl","t":147,"m":1230,"l":1185,"h":1275},{"p":"b2","s":"Ctrl","t":150,"m":1220,"l":1175,"h":1265},{"p":"b2","s":"Ctrl","t":153,"m":1240,"l":1190,"h":1290},{"p":"b2","s":"Ctrl","t":156,"m":1210,"l":1165,"h":1255},{"p":"b2","s":"Ctrl","t":159,"m":1230,"l":1185,"h":1275},{"p":"b2","s":"Ctrl","t":162,"m":1240,"l":1190,"h":1290},
      {"p":"b2","s":"dR4","t":0,"m":10,"l":0,"h":30},{"p":"b2","s":"dR4","t":3,"m":0,"l":0,"h":20},{"p":"b2","s":"dR4","t":6,"m":20,"l":0,"h":40},{"p":"b2","s":"dR4","t":9,"m":10,"l":0,"h":30},{"p":"b2","s":"dR4","t":12,"m":40,"l":20,"h":60},{"p":"b2","s":"dR4","t":15,"m":110,"l":85,"h":135},{"p":"b2","s":"dR4","t":18,"m":220,"l":190,"h":250},{"p":"b2","s":"dR4","t":21,"m":380,"l":340,"h":420},{"p":"b2","s":"dR4","t":24,"m":600,"l":550,"h":650},{"p":"b2","s":"dR4","t":27,"m":880,"l":820,"h":940},{"p":"b2","s":"dR4","t":30,"m":1170,"l":1100,"h":1240},{"p":"b2","s":"dR4","t":33,"m":1440,"l":1360,"h":1520},{"p":"b2","s":"dR4","t":36,"m":1600,"l":1510,"h":1700},{"p":"b2","s":"dR4","t":39,"m":1760,"l":1660,"h":1870},{"p":"b2","s":"dR4","t":42,"m":1900,"l":1780,"h":2020},{"p":"b2","s":"dR4","t":45,"m":2000,"l":1870,"h":2130},{"p":"b2","s":"dR4","t":48,"m":2090,"l":1950,"h":2230},{"p":"b2","s":"dR4","t":51,"m":2170,"l":2020,"h":2320},{"p":"b2","s":"dR4","t":54,"m":2220,"l":2060,"h":2380},{"p":"b2","s":"dR4","t":57,"m":2260,"l":2090,"h":2430},{"p":"b2","s":"dR4","t":60,"m":2300,"l":2130,"h":2470},{"p":"b2","s":"dR4","t":63,"m":2340,"l":2160,"h":2520},{"p":"b2","s":"dR4","t":66,"m":2380,"l":2200,"h":2560},{"p":"b2","s":"dR4","t":69,"m":2420,"l":2240,"h":2600},{"p":"b2","s":"dR4","t":72,"m":2450,"l":2270,"h":2630},{"p":"b2","s":"dR4","t":75,"m":2480,"l":2300,"h":2660},{"p":"b2","s":"dR4","t":78,"m":2500,"l":2320,"h":2680},{"p":"b2","s":"dR4","t":81,"m":2530,"l":2350,"h":2710},{"p":"b2","s":"dR4","t":84,"m":2550,"l":2370,"h":2730},{"p":"b2","s":"dR4","t":87,"m":2560,"l":2380,"h":2740},{"p":"b2","s":"dR4","t":90,"m":2590,"l":2410,"h":2770},{"p":"b2","s":"dR4","t":93,"m":2600,"l":2420,"h":2780},{"p":"b2","s":"dR4","t":96,"m":2640,"l":2460,"h":2820},{"p":"b2","s":"dR4","t":99,"m":2620,"l":2440,"h":2800},{"p":"b2","s":"dR4","t":102,"m":2660,"l":2480,"h":2840},{"p":"b2","s":"dR4","t":105,"m":2630,"l":2450,"h":2810},{"p":"b2","s":"dR4","t":108,"m":2650,"l":2470,"h":2830},{"p":"b2","s":"dR4","t":111,"m":2670,"l":2490,"h":2850},{"p":"b2","s":"dR4","t":114,"m":2640,"l":2460,"h":2820},{"p":"b2","s":"dR4","t":117,"m":2660,"l":2480,"h":2840},{"p":"b2","s":"dR4","t":120,"m":2650,"l":2470,"h":2830},{"p":"b2","s":"dR4","t":123,"m":2680,"l":2500,"h":2860},{"p":"b2","s":"dR4","t":126,"m":2650,"l":2470,"h":2830},{"p":"b2","s":"dR4","t":129,"m":2690,"l":2510,"h":2870},{"p":"b2","s":"dR4","t":132,"m":2660,"l":2480,"h":2840},{"p":"b2","s":"dR4","t":135,"m":2700,"l":2520,"h":2880},{"p":"b2","s":"dR4","t":138,"m":2670,"l":2490,"h":2850},{"p":"b2","s":"dR4","t":141,"m":2710,"l":2530,"h":2890},{"p":"b2","s":"dR4","t":144,"m":2660,"l":2480,"h":2840},{"p":"b2","s":"dR4","t":147,"m":2620,"l":2440,"h":2800},{"p":"b2","s":"dR4","t":150,"m":2680,"l":2500,"h":2860},{"p":"b2","s":"dR4","t":153,"m":2650,"l":2470,"h":2830},{"p":"b2","s":"dR4","t":156,"m":2690,"l":2510,"h":2870},{"p":"b2","s":"dR4","t":159,"m":2620,"l":2440,"h":2800},{"p":"b2","s":"dR4","t":162,"m":2660,"l":2480,"h":2840},
      {"p":"b2","s":"dR19","t":0,"m":0,"l":0,"h":20},{"p":"b2","s":"dR19","t":3,"m":10,"l":0,"h":30},{"p":"b2","s":"dR19","t":6,"m":0,"l":0,"h":20},{"p":"b2","s":"dR19","t":9,"m":15,"l":0,"h":35},{"p":"b2","s":"dR19","t":12,"m":40,"l":20,"h":60},{"p":"b2","s":"dR19","t":15,"m":120,"l":95,"h":145},{"p":"b2","s":"dR19","t":18,"m":240,"l":210,"h":270},{"p":"b2","s":"dR19","t":21,"m":410,"l":370,"h":450},{"p":"b2","s":"dR19","t":24,"m":640,"l":590,"h":690},{"p":"b2","s":"dR19","t":27,"m":930,"l":870,"h":990},{"p":"b2","s":"dR19","t":30,"m":1230,"l":1160,"h":1300},{"p":"b2","s":"dR19","t":33,"m":1500,"l":1430,"h":1570},{"p":"b2","s":"dR19","t":36,"m":1730,"l":1650,"h":1810},{"p":"b2","s":"dR19","t":39,"m":1900,"l":1820,"h":1980},{"p":"b2","s":"dR19","t":42,"m":2060,"l":1980,"h":2140},{"p":"b2","s":"dR19","t":45,"m":2210,"l":2130,"h":2290},{"p":"b2","s":"dR19","t":48,"m":2330,"l":2250,"h":2410},{"p":"b2","s":"dR19","t":51,"m":2450,"l":2370,"h":2530},{"p":"b2","s":"dR19","t":54,"m":2550,"l":2470,"h":2630},{"p":"b2","s":"dR19","t":57,"m":2620,"l":2540,"h":2700},{"p":"b2","s":"dR19","t":60,"m":2680,"l":2600,"h":2760},{"p":"b2","s":"dR19","t":63,"m":2730,"l":2650,"h":2810},{"p":"b2","s":"dR19","t":66,"m":2770,"l":2690,"h":2850},{"p":"b2","s":"dR19","t":69,"m":2820,"l":2740,"h":2900},{"p":"b2","s":"dR19","t":72,"m":2860,"l":2780,"h":2940},{"p":"b2","s":"dR19","t":75,"m":2900,"l":2820,"h":2980},{"p":"b2","s":"dR19","t":78,"m":2920,"l":2840,"h":3000},{"p":"b2","s":"dR19","t":81,"m":2950,"l":2870,"h":3030},{"p":"b2","s":"dR19","t":84,"m":2970,"l":2890,"h":3050},{"p":"b2","s":"dR19","t":87,"m":3000,"l":2920,"h":3080},{"p":"b2","s":"dR19","t":90,"m":3020,"l":2940,"h":3100},{"p":"b2","s":"dR19","t":93,"m":3050,"l":2970,"h":3130},{"p":"b2","s":"dR19","t":96,"m":3040,"l":2960,"h":3120},{"p":"b2","s":"dR19","t":99,"m":3060,"l":2980,"h":3140},{"p":"b2","s":"dR19","t":102,"m":3070,"l":2990,"h":3150},{"p":"b2","s":"dR19","t":105,"m":3050,"l":2970,"h":3130},{"p":"b2","s":"dR19","t":108,"m":3080,"l":3000,"h":3200},{"p":"b2","s":"dR19","t":111,"m":3090,"l":3010,"h":3170},{"p":"b2","s":"dR19","t":114,"m":3070,"l":2990,"h":3150},{"p":"b2","s":"dR19","t":117,"m":3080,"l":3000,"h":3160},{"p":"b2","s":"dR19","t":120,"m":3090,"l":3010,"h":3170},{"p":"b2","s":"dR19","t":123,"m":3080,"l":3000,"h":3160},{"p":"b2","s":"dR19","t":126,"m":3100,"l":3020,"h":3180},{"p":"b2","s":"dR19","t":129,"m":3090,"l":3010,"h":3170},{"p":"b2","s":"dR19","t":132,"m":3080,"l":3000,"h":3160},{"p":"b2","s":"dR19","t":135,"m":3110,"l":3030,"h":3190},{"p":"b2","s":"dR19","t":138,"m":3100,"l":3020,"h":3180},{"p":"b2","s":"dR19","t":141,"m":3120,"l":3040,"h":3220},{"p":"b2","s":"dR19","t":144,"m":3090,"l":3010,"h":3170},{"p":"b2","s":"dR19","t":147,"m":3080,"l":3000,"h":3160},{"p":"b2","s":"dR19","t":150,"m":3100,"l":3020,"h":3180},{"p":"b2","s":"dR19","t":153,"m":3070,"l":2990,"h":3150},{"p":"b2","s":"dR19","t":156,"m":3090,"l":3010,"h":3170},{"p":"b2","s":"dR19","t":159,"m":3060,"l":2980,"h":3140},{"p":"b2","s":"dR19","t":162,"m":3080,"l":3000,"h":3160}
    ]
  },
  "columns": 2,
  "spacing": {"row": 258, "column": 299},
  "bounds": "flush",
  "resolve": {"scale": {"color": "independent"}, "legend": {"color": "independent"}},
  "concat": [
    {
      "width": 685, "height": 636,
      "title": {"text": "a", "anchor": "start", "frame": "group", "dx": -274, "offset": -35, "baseline": "alphabetic", "font": "DejaVu Sans", "fontSize": 56, "fontWeight": "bold", "color": "black"},
      "data": {"name": "gfp"},
      "transform": [{"filter": "datum.p === 'a1'"}],
      "encoding": {
        "x": {"field": "t", "type": "quantitative", "scale": {"domain": [0, 162.3], "nice": false, "zero": false}, "axis": {"values": [0, 50, 100, 150], "title": "Time (min)"}}
      },
      "layer": [
        {
          "mark": {"type": "area", "opacity": 0.65, "clip": true},
          "encoding": {
            "y": {"field": "l", "type": "quantitative", "stack": null, "scale": {"domain": [0, 3500], "nice": false}, "axis": {"values": [0, 500, 1000, 1500, 2000, 2500, 3000, 3500], "format": "d", "title": "GFP fluorescence (a.u.)"}},
            "y2": {"field": "h"},
            "color": {"field": "s", "type": "nominal", "scale": {"domain": ["Ctrl", "dR7", "dR15"], "range": ["#a7a4a4", "#5470b4", "#21b418"]}, "legend": {"title": ["- RNase", "inhibitor"], "legendX": 29, "legendY": 18}}
          }
        },
        {
          "mark": {"type": "line", "strokeWidth": 3.5, "clip": true},
          "encoding": {
            "y": {"field": "m", "type": "quantitative", "axis": {"values": [0, 500, 1000, 1500, 2000, 2500, 3000, 3500], "format": "d", "title": "GFP fluorescence (a.u.)"}},
            "color": {"field": "s", "type": "nominal", "legend": null}
          }
        }
      ]
    },
    {
      "width": 685, "height": 636,
      "data": {"name": "gfp"},
      "transform": [{"filter": "datum.p === 'a2'"}],
      "encoding": {
        "x": {"field": "t", "type": "quantitative", "scale": {"domain": [0, 162.3], "nice": false, "zero": false}, "axis": {"values": [0, 50, 100, 150], "title": "Time (min)"}}
      },
      "layer": [
        {
          "mark": {"type": "area", "opacity": 0.62, "clip": true},
          "encoding": {
            "y": {"field": "l", "type": "quantitative", "stack": null, "scale": {"domain": [0, 3500], "nice": false}, "axis": {"values": [0, 500, 1000, 1500, 2000, 2500, 3000, 3500], "format": "d", "title": "GFP fluorescence (a.u.)"}},
            "y2": {"field": "h"},
            "color": {"field": "s", "type": "nominal", "scale": {"domain": ["Ctrl", "dR4", "dR19"], "range": ["#a7a4a4", "#662d91", "#f7851e"]}, "legend": {"title": ["- RNase", "inhibitor"], "legendX": 29, "legendY": 18}}
          }
        },
        {
          "mark": {"type": "line", "strokeWidth": 3.5, "clip": true},
          "encoding": {
            "y": {"field": "m", "type": "quantitative", "axis": {"values": [0, 500, 1000, 1500, 2000, 2500, 3000, 3500], "format": "d", "title": "GFP fluorescence (a.u.)"}},
            "color": {"field": "s", "type": "nominal", "legend": null}
          }
        }
      ]
    },
    {
      "width": 685, "height": 636,
      "title": {"text": "b", "anchor": "start", "frame": "group", "dx": -274, "offset": -23, "baseline": "alphabetic", "font": "DejaVu Sans", "fontSize": 56, "fontWeight": "bold", "color": "black"},
      "data": {"name": "gfp"},
      "transform": [{"filter": "datum.p === 'b1'"}],
      "encoding": {
        "x": {"field": "t", "type": "quantitative", "scale": {"domain": [0, 162.3], "nice": false, "zero": false}, "axis": {"values": [0, 50, 100, 150], "title": "Time (min)"}}
      },
      "layer": [
        {
          "mark": {"type": "area", "opacity": 0.62, "clip": true},
          "encoding": {
            "y": {"field": "l", "type": "quantitative", "stack": null, "scale": {"domain": [0, 3500], "nice": false}, "axis": {"values": [0, 500, 1000, 1500, 2000, 2500, 3000, 3500], "format": "d", "title": "GFP fluorescence (a.u.)"}},
            "y2": {"field": "h"},
            "color": {"field": "s", "type": "nominal", "scale": {"domain": ["Ctrl", "dR7", "dR15"], "range": ["#a7a4a4", "#5470b4", "#21b418"]}, "legend": {"title": ["+ RNase", "inhibitor"], "legendX": 20, "legendY": 18, "symbolOffset": 15}}
          }
        },
        {
          "mark": {"type": "line", "strokeWidth": 6.5, "clip": true},
          "encoding": {
            "y": {"field": "m", "type": "quantitative", "axis": {"values": [0, 500, 1000, 1500, 2000, 2500, 3000, 3500], "format": "d", "title": "GFP fluorescence (a.u.)"}},
            "color": {"field": "s", "type": "nominal", "legend": null}
          }
        }
      ]
    },
    {
      "width": 685, "height": 636,
      "data": {"name": "gfp"},
      "transform": [{"filter": "datum.p === 'b2'"}],
      "encoding": {
        "x": {"field": "t", "type": "quantitative", "scale": {"domain": [0, 162.3], "nice": false, "zero": false}, "axis": {"values": [0, 50, 100, 150], "title": "Time (min)"}}
      },
      "layer": [
        {
          "mark": {"type": "area", "opacity": 0.62, "clip": true},
          "encoding": {
            "y": {"field": "l", "type": "quantitative", "stack": null, "scale": {"domain": [0, 3500], "nice": false}, "axis": {"values": [0, 500, 1000, 1500, 2000, 2500, 3000, 3500], "format": "d", "title": "GFP fluorescence (a.u.)"}},
            "y2": {"field": "h"},
            "color": {"field": "s", "type": "nominal", "scale": {"domain": ["Ctrl", "dR4", "dR19"], "range": ["#a7a4a4", "#662d91", "#f7851e"]}, "legend": {"title": ["+ RNase", "inhibitor"], "legendX": 24, "legendY": 18, "symbolOffset": 16}}
          }
        },
        {
          "mark": {"type": "line", "strokeWidth": 3.5, "clip": true},
          "encoding": {
            "y": {"field": "m", "type": "quantitative", "axis": {"values": [0, 500, 1000, 1500, 2000, 2500, 3000, 3500], "format": "d", "title": "GFP fluorescence (a.u.)"}},
            "color": {"field": "s", "type": "nominal", "legend": null}
          }
        }
      ]
    }
  ],
  "config": {
    "view": {"stroke": "black", "strokeWidth": 4},
    "axis": {
      "domain": false,
      "grid": false,
      "labelFont": "DejaVu Sans",
      "labelFontSize": 38,
      "labelColor": "black",
      "labelFlush": false,
      "labelOverlap": false,
      "tickColor": "black",
      "tickWidth": 4,
      "tickSize": 11,
      "titleFont": "DejaVu Sans",
      "titleFontWeight": "normal",
      "titleColor": "black"
    },
    "axisX": {"labelPadding": 7, "titleFontSize": 40, "titlePadding": 18},
    "axisY": {"labelPadding": 10, "titleFontSize": 38, "titlePadding": 15},
    "legend": {
      "orient": "none",
      "padding": 0,
      "labelFont": "DejaVu Sans",
      "labelFontSize": 32,
      "labelColor": "black",
      "labelOffset": 8,
      "titleFont": "DejaVu Sans",
      "titleFontSize": 32,
      "titleFontWeight": "normal",
      "titleColor": "black",
      "titleOrient": "bottom",
      "titleAnchor": "start",
      "titleAlign": "left",
      "titleLineHeight": 40,
      "titlePadding": 11,
      "titleLimit": 400,
      "symbolType": "circle",
      "symbolSize": 1225,
      "symbolOpacity": 1,
      "symbolStrokeWidth": 0,
      "symbolOffset": 6,
      "rowPadding": 14
    }
  }
}
